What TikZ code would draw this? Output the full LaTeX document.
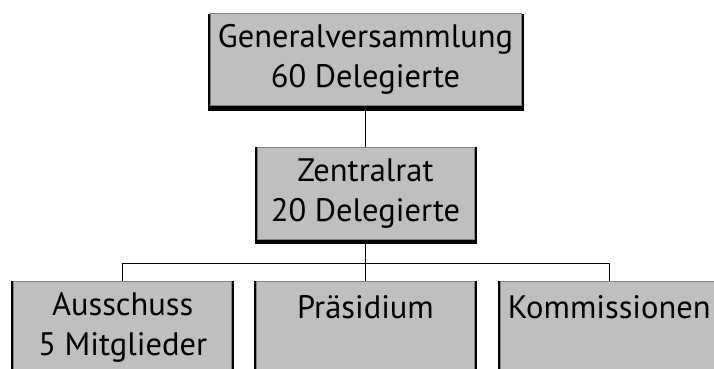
\documentclass[tikz,border=0pt]{standalone}
\usepackage{fontspec}
\setmainfont{PT Sans}
\usetikzlibrary{positioning}
\tikzset{
    % gray box, dark edge left, right and below
    orgbox/.style={
           rectangle,
           draw=black!50, line width=0.8pt,
           fill=black!25,
           preaction={draw=black, line width=5pt, transform canvas={yshift=-2.5pt}},
           inner sep=0pt,
           minimum height=92pt,
           align=center,
           font=\fontsize{32.5}{40}\selectfont},
    topbox/.style={orgbox, minimum width=311pt},
    midbox/.style={orgbox, minimum width=217pt},
    unitbox/.style={orgbox, minimum width=218pt},
    % connector lines
    link/.style={draw=black, line width=1.2pt}
}
\begin{document}
\begin{tikzpicture}[node distance=41pt]
\useasboundingbox (0,0) rectangle (714pt,-368pt);
 %nodes
\node[topbox] (gv) at (365.5pt,-59.5pt) {Generalversammlung\\60 Delegierte};
\node[midbox, below=of gv] (zr) {Zentralrat\\20 Delegierte};
\node[unitbox, below=of zr] (pr) {Präsidium\\\mbox{}};
\node[unitbox, left=24pt of pr] (au) {Ausschuss\\5 Mitglieder};
\node[unitbox, right=25pt of pr] (ko) {Kommissionen\\\mbox{}};
 %lines
\draw[link] (gv) -- (zr);
\draw[link] (zr) -- (pr);
\draw[link] (au.north) -- ++(0,17pt) -| (ko.north);
\end{tikzpicture}
\end{document}
